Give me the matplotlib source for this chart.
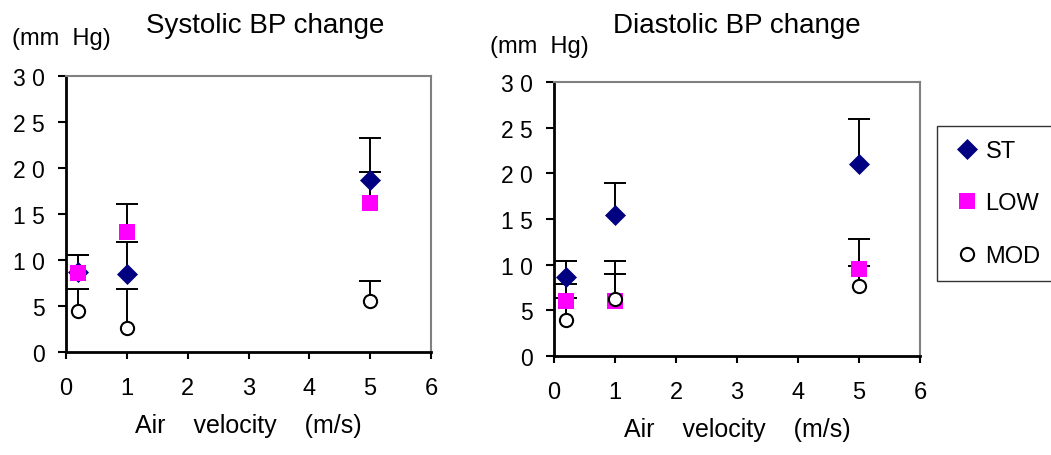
import matplotlib
matplotlib.use("Agg")
import matplotlib.pyplot as plt
import numpy as np

plt.rcParams['font.family'] = ['Liberation Sans', 'DejaVu Sans']

# Data
air_velocity = [0.2, 1, 5]
series_names = ['ST', 'LOW', 'MOD']

sys_st = [8.7, 8.5, 18.7]
sys_st_err = [1.8, 3.5, 4.6]
sys_low = [8.6, 13.0, 16.2]
sys_low_err = [1.9, 3.1, 3.4]
sys_mod = [4.5, 2.6, 5.5]
sys_mod_err = [2.3, 4.2, 2.2]

dia_st = [8.7, 15.4, 21.0]
dia_st_err = [1.7, 3.5, 4.9]
dia_low = [6.0, 6.0, 9.5]
dia_low_err = [1.85, 3.0, 3.3]
dia_mod = [3.9, 6.2, 7.7]
dia_mod_err = [2.45, 4.2, 2.2]

y_ticks = [0, 5, 10, 15, 20, 25, 30]
y_tick_labels = ['0', '5', '1 0', '1 5', '2 0', '2 5', '3 0']
x_ticks = [0, 1, 2, 3, 4, 5, 6]
x_tick_labels = ['0', '1', '2', '3', '4', '5', '6']

W, H = 1051, 456
fig = plt.figure(figsize=(W / 100, H / 100), dpi=100)

def px_axes(l, r, t, b):
    return [l / W, (H - b) / H, (r - l) / W, (b - t) / H]

ax1 = fig.add_axes(px_axes(66, 431, 77, 353))
ax2 = fig.add_axes(px_axes(554, 920, 83, 357))

styles = {
    'ST': dict(marker='D', color='#000080', markersize=10, markeredgecolor='#000080', markeredgewidth=0.5),
    'LOW': dict(marker='s', color='#FF00FF', markersize=12, markeredgecolor='#FF00FF', markeredgewidth=0),
    'MOD': dict(marker='o', color='white', markersize=9.5, markeredgecolor='black', markeredgewidth=1.5),
}

def draw(ax, data):
    for name, (vals, errs) in zip(series_names, data):
        eb = ax.errorbar(air_velocity, vals, yerr=[np.zeros(len(errs)), errs], fmt='none',
                         ecolor='black', elinewidth=1.4, capsize=7.6, capthick=1.4, zorder=2)
        caplines = eb[1]
        if len(caplines) == 2:
            caplines[0].set_visible(False)
    handles = []
    for name, (vals, errs) in zip(series_names, data):
        h, = ax.plot(air_velocity, vals, linestyle='none', label=name, zorder=3, **styles[name])
        handles.append(h)
    ax.set_xlim(0, 6)
    ax.set_ylim(0, 30)
    ax.set_xticks(x_ticks)
    ax.set_xticklabels(x_tick_labels, fontsize=17)
    ax.set_yticks(y_ticks)
    ax.set_yticklabels(y_tick_labels, fontsize=16.5)
    ax.tick_params(axis='y', direction='out', length=6, width=1.5, pad=9)
    ax.tick_params(axis='x', direction='out', length=5, width=1.5, pad=13)
    for s in ['left', 'bottom']:
        ax.spines[s].set_color('black')
        ax.spines[s].set_linewidth(2)
    for s in ['top', 'right']:
        ax.spines[s].set_color('#808080')
        ax.spines[s].set_linewidth(1.5)
    ax.set_xlabel('Air    velocity    (m/s)', fontsize=18, labelpad=10)
    return handles

handles = draw(ax1, [(sys_st, sys_st_err), (sys_low, sys_low_err), (sys_mod, sys_mod_err)])
draw(ax2, [(dia_st, dia_st_err), (dia_low, dia_low_err), (dia_mod, dia_mod_err)])

fig.text(265 / W, 1 - 33 / H, 'Systolic BP change', fontsize=20, ha='center', va='baseline')
fig.text(737 / W, 1 - 33 / H, 'Diastolic BP change', fontsize=20, ha='center', va='baseline')
fig.text(12 / W, 1 - 45 / H, '(mm  Hg)', fontsize=17, ha='left', va='baseline')
fig.text(490 / W, 1 - 53 / H, '(mm  Hg)', fontsize=17, ha='left', va='baseline')

leg = fig.legend(handles, series_names, loc='center', bbox_to_anchor=(996 / W, 1 - 204.5 / H),
                 frameon=True, fancybox=False, edgecolor='black', fontsize=17, numpoints=1,
                 handlelength=1.3, handletextpad=0.15, labelspacing=1.3, borderpad=0.6)
leg.get_frame().set_linewidth(1.0)

fig.savefig('out.png', dpi=100)
